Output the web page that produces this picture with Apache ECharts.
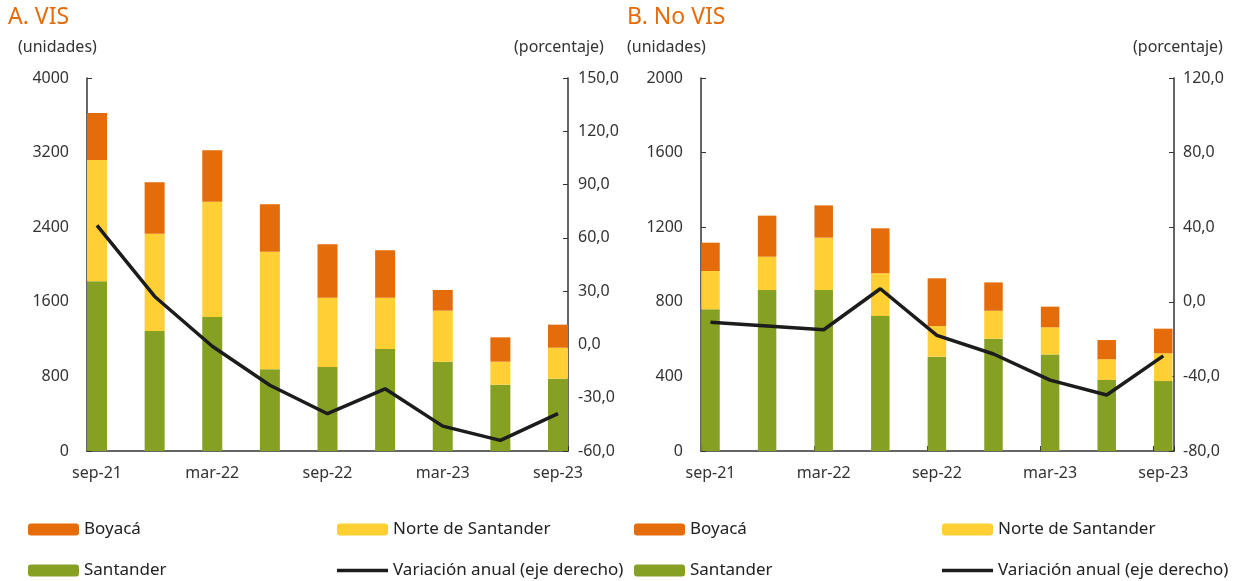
<!DOCTYPE html>
<html>
<head>
<meta charset="utf-8">
<script src="https://cdn.jsdelivr.net/npm/echarts@6/dist/echarts.min.js"></script>
<style>
  html, body { margin: 0; padding: 0; background: #fff; }
  #chart { width: 1243px; height: 581px; }
</style>
</head>
<body>
<div id="chart"></div>
<script>
  // trimestres (solo se rotulan los pares)
  const categories = ['sep-21', 'dic-21', 'mar-22', 'jun-22', 'sep-22', 'dic-22', 'mar-23', 'jun-23', 'sep-23'];

  // A. VIS (unidades y variación anual %)
  const visSantander = [1820, 1287, 1437, 876, 901, 1094, 958, 711, 775];
  const visNorte = [1300, 1043, 1237, 1261, 743, 550, 547, 247, 333];
  const visBoyaca = [505, 551, 551, 508, 572, 508, 222, 261, 247];
  const visVariacion = [67, 27, -1, -23, -39, -25, -46, -54, -39];

  // B. No VIS
  const noVisSantander = [760, 863, 863, 724, 506, 602, 518, 381, 375];
  const noVisNorte = [205, 179, 281, 229, 164, 150, 145, 111, 149];
  const noVisBoyaca = [152, 220, 173, 241, 256, 152, 111, 103, 132];
  const noVisVariacion = [-11, -13, -15, 7, -18, -28, -42, -50, -29];

  // ejes: [min, max, intervalo]
  const visUnidadesEje = [0, 4000, 800];
  const visPorcentajeEje = [-60, 150, 30];
  const noVisUnidadesEje = [0, 2000, 400];
  const noVisPorcentajeEje = [-80, 120, 40];

  const FONT = '"Noto Sans", "DejaVu Sans", sans-serif';
  const COLOR_BOY = '#E46C0A';
  const COLOR_NOR = '#FFCF33';
  const COLOR_SAN = '#86A024';
  const COLOR_LINE = '#1c1c1c';
  const AXIS = '#333';

  const pct = v => v.toFixed(1).replace('.', ',');
  const units = v => String(v);

  function frameX(grid, max) {
    return {
      gridIndex: grid, type: 'value', min: 0, max: max, interval: 2,
      axisLine: { show: true, lineStyle: { color: AXIS, width: 1.5 } },
      axisTick: { show: true, inside: true, length: 5, lineStyle: { color: AXIS } },
      axisLabel: { show: false }, splitLine: { show: false }
    };
  }
  function barX(grid) {
    return {
      gridIndex: grid, type: 'category', data: categories, boundaryGap: true,
      axisLine: { show: false }, axisTick: { show: false },
      axisLabel: { interval: 1, margin: 14, fontSize: 16, color: AXIS, fontFamily: FONT }
    };
  }
  function frameY(grid, pos, ax, fmt, margin) {
    return {
      gridIndex: grid, type: 'value', position: pos, min: ax[0], max: ax[1], interval: ax[2],
      axisLine: { show: true, lineStyle: { color: AXIS, width: 1.5 } },
      axisTick: { show: true, inside: true, length: 5, lineStyle: { color: AXIS } },
      axisLabel: { margin: margin, fontSize: 16, color: AXIS, fontFamily: FONT, formatter: fmt },
      splitLine: { show: false }
    };
  }
  function hiddenY(grid, ax) {
    return { gridIndex: grid, type: 'value', show: false, min: ax[0], max: ax[1], splitLine: { show: false } };
  }
  function bars(name, data, color, xi, yi, w) {
    return { name: name, type: 'bar', stack: 'u' + xi, data: data, xAxisIndex: xi, yAxisIndex: yi,
      barWidth: w, itemStyle: { color: color }, emphasis: { disabled: true } };
  }
  function line(data, xi, yi) {
    return { name: 'Variación anual (eje derecho)', type: 'line', data: data, xAxisIndex: xi, yAxisIndex: yi,
      symbol: 'none', z: 5, lineStyle: { color: COLOR_LINE, width: 3.5 }, itemStyle: { color: COLOR_LINE } };
  }
  function legend(name, left, top) {
    return {
      data: [name], left: left, top: top, padding: 0, itemWidth: 51, itemHeight: 12,
      textStyle: { fontSize: 17, color: '#222', fontFamily: FONT }, selectedMode: false
    };
  }
  function lineLegend(name, left, top) {
    return {
      data: [{ name: name, icon: 'rect' }], left: left, top: top, padding: 0, itemWidth: 51, itemHeight: 3.5,
      itemStyle: { color: COLOR_LINE },
      textStyle: { fontSize: 17, color: '#222', fontFamily: FONT }, selectedMode: false
    };
  }
  function text(str, x, y, size, color) {
    return { type: 'text', x: x, y: y, style: { text: str, font: size + 'px ' + FONT, fill: color, verticalAlign: 'middle' } };
  }

  const chart = echarts.init(document.getElementById('chart'));
  chart.setOption({
    animation: false,
    grid: [
      { left: 87, top: 78, width: 481, height: 373 },
      { left: 68.2, top: 78, width: 518.6, height: 373 },
      { left: 701, top: 78, width: 473, height: 373 },
      { left: 682.2, top: 78, width: 509.4, height: 373 }
    ],
    xAxis: [frameX(0, 8.29), barX(1), frameX(2, 8.37), barX(3)],
    yAxis: [
      frameY(0, 'left', visUnidadesEje, units, 18),
      frameY(0, 'right', visPorcentajeEje, pct, 10),
      hiddenY(1, visUnidadesEje),
      hiddenY(1, visPorcentajeEje),
      frameY(2, 'left', noVisUnidadesEje, units, 18),
      frameY(2, 'right', noVisPorcentajeEje, pct, 9),
      hiddenY(3, noVisUnidadesEje),
      hiddenY(3, noVisPorcentajeEje)
    ],
    legend: [
      legend('Boyacá', 28, 521),
      legend('Norte de Santander', 337, 521),
      legend('Santander', 28, 562),
      lineLegend('Variación anual (eje derecho)', 337, 562),
      legend('Boyacá', 634, 521),
      legend('Norte de Santander', 942, 521),
      legend('Santander', 634, 562),
      lineLegend('Variación anual (eje derecho)', 942, 562)
    ],
    graphic: [
      text('A. VIS', 8, 17, 23, COLOR_BOY),
      text('B. No VIS', 627, 17, 23, COLOR_BOY),
      text('(unidades)', 18, 47, 16, AXIS),
      text('(porcentaje)', 514, 47, 16, AXIS),
      text('(unidades)', 627, 47, 16, AXIS),
      text('(porcentaje)', 1133, 47, 16, AXIS)
    ],
    series: [
      bars('Santander', visSantander, COLOR_SAN, 1, 2, 20),
      bars('Norte de Santander', visNorte, COLOR_NOR, 1, 2, 20),
      bars('Boyacá', visBoyaca, COLOR_BOY, 1, 2, 20),
      line(visVariacion, 1, 3),
      bars('Santander', noVisSantander, COLOR_SAN, 3, 6, 18.5),
      bars('Norte de Santander', noVisNorte, COLOR_NOR, 3, 6, 18.5),
      bars('Boyacá', noVisBoyaca, COLOR_BOY, 3, 6, 18.5),
      line(noVisVariacion, 3, 7)
    ]
  });
</script>
</body>
</html>
